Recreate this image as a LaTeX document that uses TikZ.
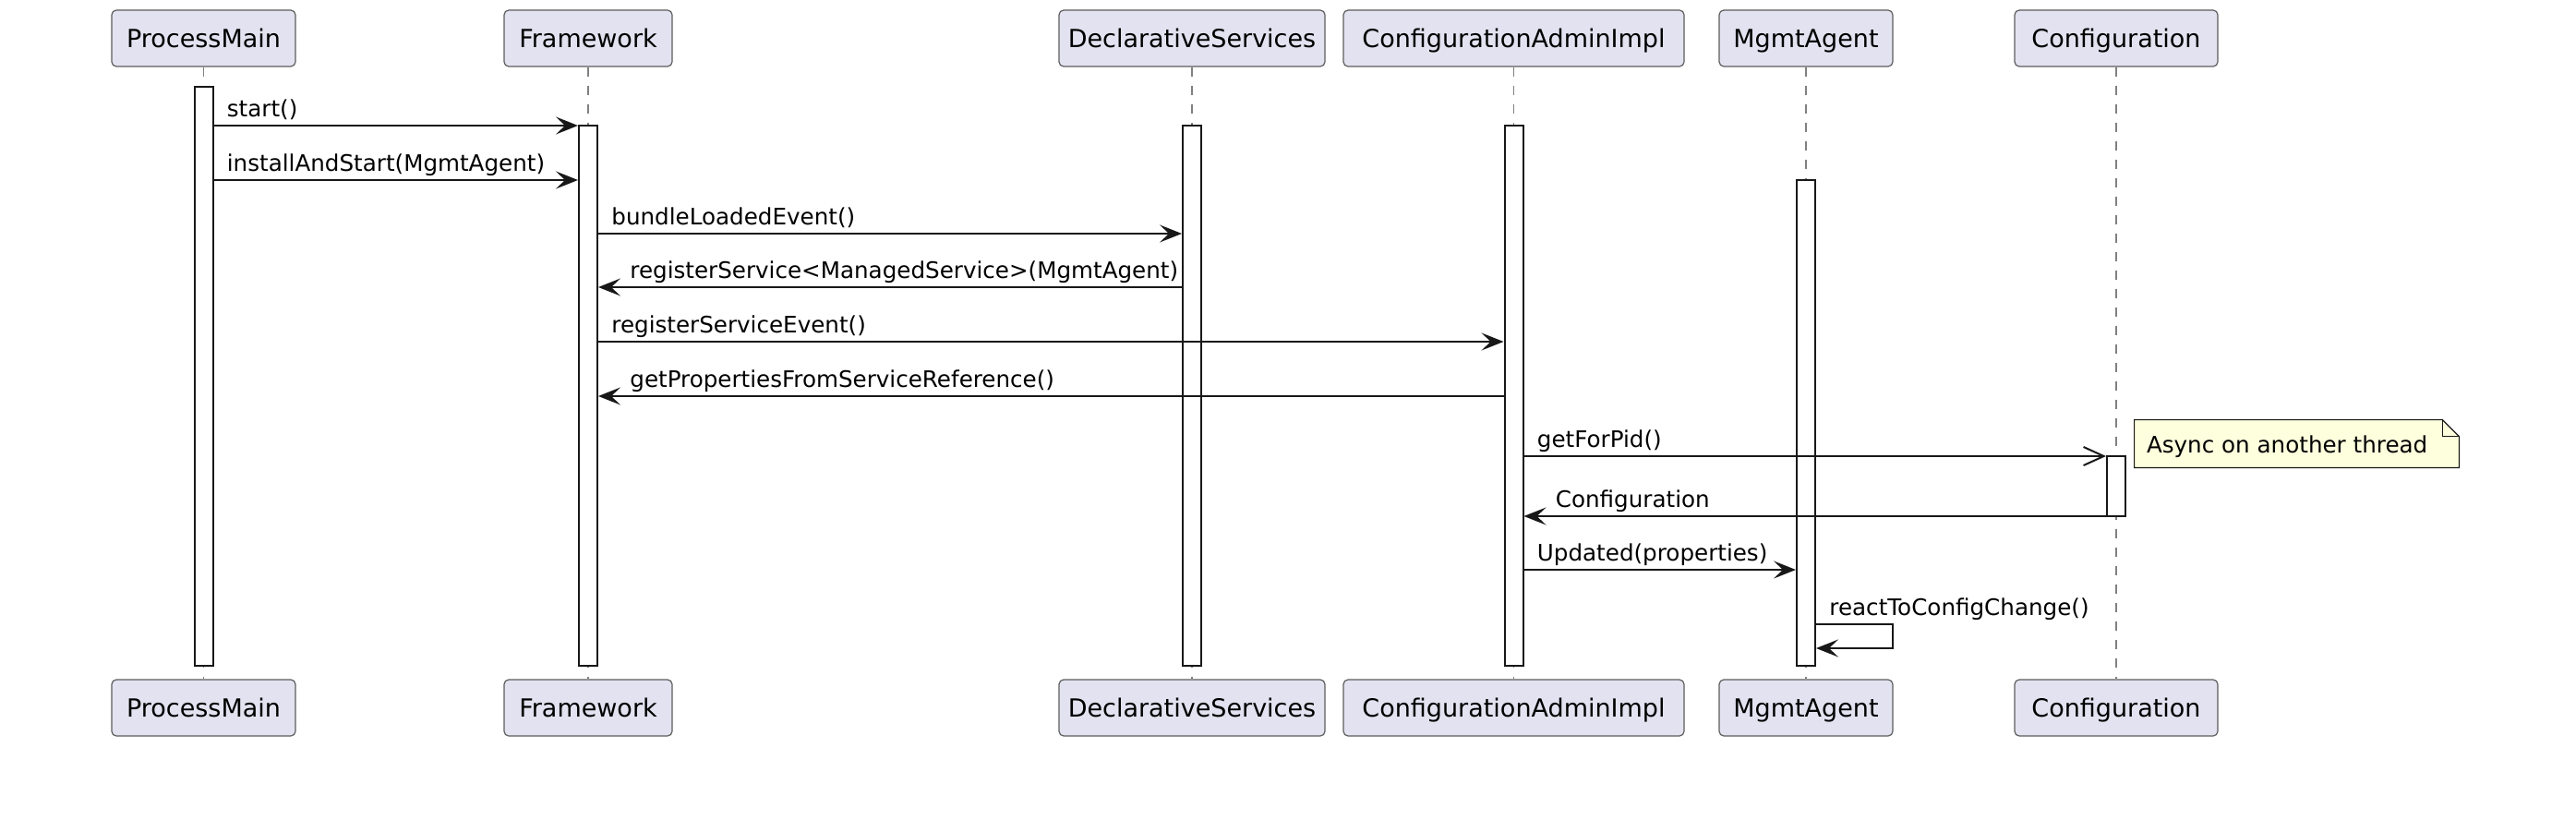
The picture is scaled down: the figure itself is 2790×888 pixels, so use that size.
\documentclass[tikz,border=0pt]{standalone}
\usepackage{fontspec}
\setmainfont{DejaVu Sans}
\usetikzlibrary{arrows.meta}
\definecolor{partfill}{HTML}{E2E2F0}
\definecolor{ink}{HTML}{181818}
\definecolor{notefill}{HTML}{FEFFDD}
\begin{document}
\begin{tikzpicture}[x=0.5pt,y=-0.5pt,
  part/.style={draw=ink!70, line width=0.6pt, fill=partfill, rounded corners=2.5pt,
    minimum height=30.5pt, inner sep=0pt, text height=9.9pt, text depth=0pt,
    font=\fontsize{13.5}{16}\selectfont},
  life/.style={draw=ink!55, line width=0.6pt, dash pattern=on 5pt off 5pt},
  actbar/.style={draw=ink, fill=white, line width=1pt, minimum width=10pt, inner sep=0pt},
  msg/.style={draw=ink, line width=1pt, -{Stealth[length=12pt,width=9.5pt,inset=5pt]}},
  amsg/.style={draw=ink, line width=1pt, -{Straight Barb[length=11pt,width=10pt,line width=1pt]}},
  lbl/.style={font=\fontsize{12.3}{15}\selectfont, inner sep=0pt, anchor=base west},
]
\useasboundingbox (0,0) rectangle (2790,888);

% participants (top)
\node[part, minimum width=99.5pt] (pmT)  at (220.5,41.5) {ProcessMain};
\node[part, minimum width=91pt]   (fwT)  at (637,41.5)   {Framework};
\node[part, minimum width=144pt]  (dsT)  at (1291,41.5)  {DeclarativeServices};
\node[part, minimum width=184.5pt](caiT) at (1639.5,41.5){ConfigurationAdminImpl};
\node[part, minimum width=94pt]   (maT)  at (1956,41.5)  {MgmtAgent};
\node[part, minimum width=110pt]  (cfT)  at (2292,41.5)  {Configuration};
% participants (bottom)
\node[part, minimum width=99.5pt] (pmB)  at (220.5,766.5) {ProcessMain};
\node[part, minimum width=91pt]   (fwB)  at (637,766.5)   {Framework};
\node[part, minimum width=144pt]  (dsB)  at (1291,766.5)  {DeclarativeServices};
\node[part, minimum width=184.5pt](caiB) at (1639.5,766.5){ConfigurationAdminImpl};
\node[part, minimum width=94pt]   (maB)  at (1956,766.5)  {MgmtAgent};
\node[part, minimum width=110pt]  (cfB)  at (2292,766.5)  {Configuration};

% lifelines
\draw[life] (pmT) -- (pmB);
\draw[life] (fwT) -- (fwB);
\draw[life] (dsT) -- (dsB);
\draw[life] (caiT) -- (caiB);
\draw[life] (maT) -- (maB);
\draw[life] (cfT) -- (cfB);

% activation bars
\node[actbar, minimum height=313.5pt] (pmA)  at (220.5,407.5) {};
\node[actbar, minimum height=292.5pt] (fwA)  at (637,428.5) {};
\node[actbar, minimum height=292.5pt] (dsA)  at (1291,428.5) {};
\node[actbar, minimum height=292.5pt] (caiA) at (1639.5,428.5) {};
\node[actbar, minimum height=263pt]   (maA)  at (1956,458) {};
\node[actbar, minimum height=32.5pt]  (cfA)  at (2292,526.5) {};

% message rows
\coordinate (y1) at (0,136);
\coordinate (y2) at (0,195);
\coordinate (y3) at (0,253);
\coordinate (y4) at (0,311);
\coordinate (y5) at (0,370);
\coordinate (y6) at (0,429);
\coordinate (y7) at (0,494);
\coordinate (y8) at (0,559);
\coordinate (y9) at (0,617);
\coordinate (y10) at (0,676);
\coordinate (y11) at (0,702);

\draw[msg] (pmA.east |- y1) -- (fwA.west |- y1);
\node[lbl] (l1) at ([xshift=7pt,yshift=4.8pt]pmA.east |- y1) {start()};
\draw[msg] (pmA.east |- y2) -- (fwA.west |- y2);
\node[lbl] (l2) at ([xshift=7pt,yshift=4.8pt]pmA.east |- y2) {installAndStart(MgmtAgent)};
\draw[msg] (fwA.east |- y3) -- (dsA.west |- y3);
\node[lbl] (l3) at ([xshift=7pt,yshift=4.8pt]fwA.east |- y3) {bundleLoadedEvent()};
\draw[msg] (dsA.west |- y4) -- (fwA.east |- y4);
\node[lbl] (l4) at ([xshift=17pt,yshift=4.8pt]fwA.east |- y4) {registerService<ManagedService>(MgmtAgent)};
\draw[msg] (fwA.east |- y5) -- (caiA.west |- y5);
\node[lbl] (l5) at ([xshift=7pt,yshift=4.8pt]fwA.east |- y5) {registerServiceEvent()};
\draw[msg] (caiA.west |- y6) -- (fwA.east |- y6);
\node[lbl] (l6) at ([xshift=17pt,yshift=4.8pt]fwA.east |- y6) {getPropertiesFromServiceReference()};
\draw[amsg] (caiA.east |- y7) -- (cfA.west |- y7);
\node[lbl] (l7) at ([xshift=7pt,yshift=4.8pt]caiA.east |- y7) {getForPid()};
\draw[msg] (cfA.east |- y8) -- (caiA.east |- y8);
\node[lbl] (l8) at ([xshift=17pt,yshift=4.8pt]caiA.east |- y8) {Configuration};
\draw[msg] (caiA.east |- y9) -- (maA.west |- y9);
\node[lbl] (l9) at ([xshift=7pt,yshift=4.8pt]caiA.east |- y9) {Updated(properties)};
\coordinate (selfR) at (2050,676);
\draw[msg] (maA.east |- y10) -- (selfR) -- (selfR |- y11) -- (maA.east |- y11);
\node[lbl] (l10) at ([xshift=7pt,yshift=4.8pt]maA.east |- y10) {reactToConfigChange()};

% note
\node[minimum width=175.5pt, minimum height=25.5pt, inner sep=0pt] (note) at (2487.5,480.5) {};
\draw[draw=ink, line width=0.6pt, fill=notefill]
  (note.north west) -- ([xshift=-9pt]note.north east) -- ([yshift=-9pt]note.north east)
  -- (note.south east) -- (note.south west) -- cycle;
\draw[draw=ink, line width=0.6pt] ([xshift=-9pt]note.north east) -- ([xshift=-9pt,yshift=-9pt]note.north east) -- ([yshift=-9pt]note.north east);
\node[lbl] (noteText) at ([xshift=6.5pt,yshift=-4.75pt]note.west) {Async on another thread};
\end{tikzpicture}
\end{document}
